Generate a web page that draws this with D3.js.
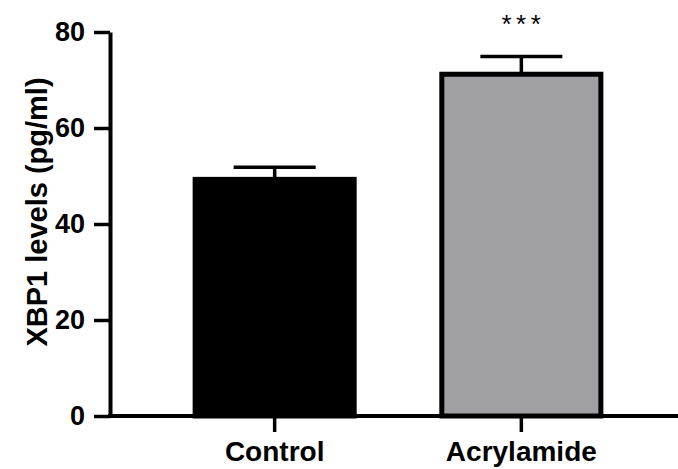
<!DOCTYPE html>
<html>
<head>
<meta charset="utf-8">
<script src="https://cdn.jsdelivr.net/npm/d3@7"></script>
<style>
  html, body { margin: 0; padding: 0; background: #fff; }
  svg { display: block; font-family: "Liberation Sans", Arial, Helvetica, sans-serif; }
</style>
</head>
<body>
<svg id="chart" width="678" height="469"></svg>
<script>
// XBP1 levels by group (mean ± SEM)
const groups = ["Control", "Acrylamide"];
const means = [49.3, 71.2];
const sems = [2.5, 3.7];
const fills = ["#000000", "#a0a0a4"];
const marks = ["", "***"];
const yTicks = [0, 20, 40, 60, 80];

const svg = d3.select("#chart");
const margin = { left: 110, top: 32, bottom: 53 };
const W = 678, H = 469;
const FONT = "Liberation Sans, Arial, sans-serif";

const y = d3.scaleLinear().domain([0, 80]).range([H - margin.bottom, margin.top]);
const x = d3.scaleBand().domain(groups).range([margin.left, 686]).padding(0.335);

const strokeW = 5;
const data = groups.map((g, i) => ({ g, mean: means[i], sem: sems[i], fill: fills[i], mark: marks[i] }));

// bars (outlined in black)
svg.append("g").selectAll("rect").data(data).join("rect")
  .attr("x", d => x(d.g) + strokeW / 2)
  .attr("width", x.bandwidth() - strokeW)
  .attr("y", d => y(d.mean))
  .attr("height", d => y(0) - y(d.mean))
  .attr("fill", d => d.fill)
  .attr("stroke", "#000")
  .attr("stroke-width", strokeW);

// error bars: stem + cap
const eb = svg.append("g").attr("stroke", "#000").attr("stroke-width", 3.5);
eb.selectAll("line.stem").data(data).join("line").attr("class", "stem")
  .attr("x1", d => x(d.g) + x.bandwidth() / 2)
  .attr("x2", d => x(d.g) + x.bandwidth() / 2)
  .attr("y1", d => y(d.mean))
  .attr("y2", d => y(d.mean + d.sem));
eb.selectAll("line.cap").data(data).join("line").attr("class", "cap")
  .attr("x1", d => x(d.g) + x.bandwidth() / 4)
  .attr("x2", d => x(d.g) + x.bandwidth() * 3 / 4)
  .attr("y1", d => y(d.mean + d.sem))
  .attr("y2", d => y(d.mean + d.sem));

// significance marks
svg.append("g").selectAll("text").data(data.filter(d => d.mark)).join("text")
  .attr("x", d => x(d.g) + x.bandwidth() / 2 + 2)
  .attr("y", 33)
  .attr("text-anchor", "middle")
  .attr("font-size", 26)
  .attr("letter-spacing", 4.5)
  .attr("fill", "#000")
  .attr("font-family", FONT)
  .text(d => d.mark);

// y axis
const yAxis = svg.append("g")
  .attr("transform", `translate(${margin.left},0)`)
  .call(d3.axisLeft(y).tickValues(yTicks).tickSize(16).tickPadding(9).tickSizeOuter(0));
yAxis.select(".domain").attr("stroke-width", 4).attr("stroke", "#000");
yAxis.selectAll(".tick line").attr("stroke-width", 3.5).attr("stroke", "#000");
yAxis.selectAll(".tick text").attr("font-size", 27).attr("font-weight", "bold")
  .attr("fill", "#000").attr("font-family", FONT);

// x axis
const xAxis = svg.append("g")
  .attr("transform", `translate(0,${y(0)})`)
  .call(d3.axisBottom(x).tickSize(16).tickPadding(9).tickSizeOuter(0));
xAxis.select(".domain").attr("d", `M${margin.left - 2},0H${W}`)
  .attr("stroke-width", 4).attr("stroke", "#000");
xAxis.selectAll(".tick line").attr("stroke-width", 3.5).attr("stroke", "#000");
xAxis.selectAll(".tick text").attr("font-size", 28).attr("font-weight", "bold")
  .attr("fill", "#000").attr("font-family", FONT);

// y axis title
svg.append("text")
  .attr("transform", `translate(47,${(y(0) + y(80)) / 2 - 12}) rotate(-90)`)
  .attr("text-anchor", "middle")
  .attr("font-size", 29)
  .attr("font-weight", "bold")
  .attr("fill", "#000")
  .attr("font-family", FONT)
  .text("XBP1 levels (pg/ml)");
</script>
</body>
</html>
